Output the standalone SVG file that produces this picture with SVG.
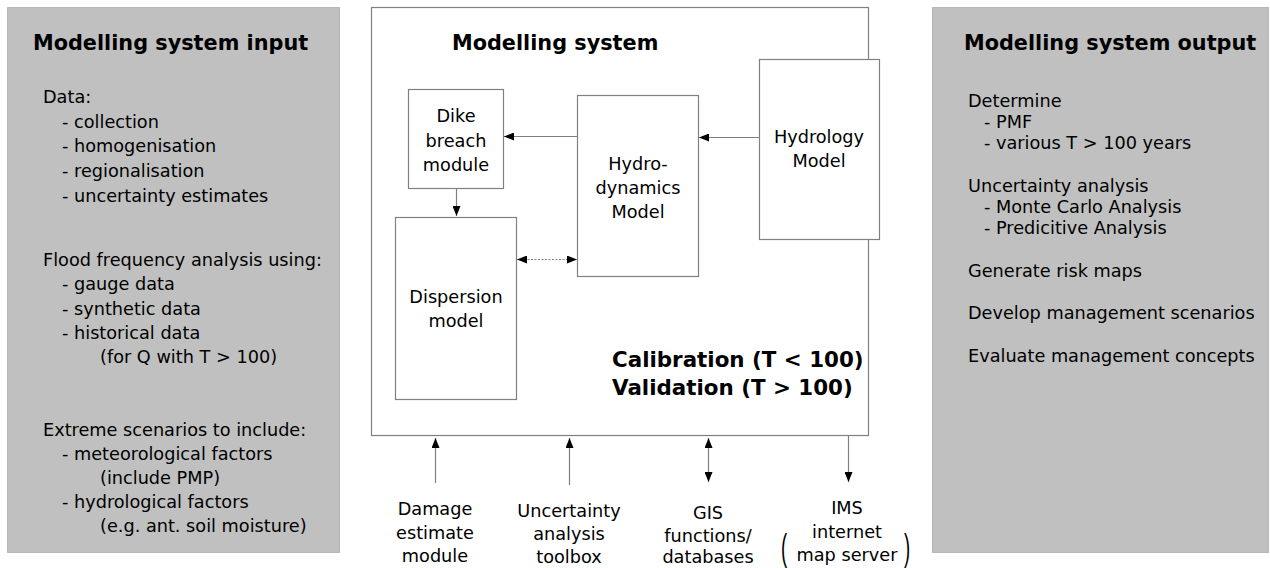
<svg xmlns="http://www.w3.org/2000/svg" width="1270" height="568" viewBox="0 0 1270 568">
<style>
  .panel { fill: #c0c0c0; stroke: #8c8c8c; stroke-width: 1; stroke-dasharray: 1 1; }
  .box { fill: #ffffff; stroke: #808080; stroke-width: 1.2; }
  .t { font-family: "DejaVu Sans", Verdana, sans-serif; font-size: 17.7px; fill: #000; }
  .c { text-anchor: middle; }
  .h { font-family: "DejaVu Sans", Verdana, sans-serif; font-weight: bold; font-size: 20.8px; fill: #000; }
  .cal { font-family: "DejaVu Sans", Verdana, sans-serif; font-weight: bold; font-size: 21.4px; fill: #000; }
  .ln { stroke: #808080; stroke-width: 1.2; fill: none; }
  .dot { stroke: #808080; stroke-width: 1; stroke-dasharray: 2 1.5; fill: none; }
  .par { font-family: "Liberation Sans", Arial, sans-serif; font-size: 37px; fill: #000; }
</style>
<defs>
  <marker id="ah" viewBox="0 0 10 8" refX="10" refY="4" markerWidth="10" markerHeight="8" markerUnits="userSpaceOnUse" orient="auto-start-reverse">
    <path d="M0,0 L10,4 L0,8 z" fill="#000"/>
  </marker>
</defs>

<g id="input-panel">
  <rect class="panel" x="7.5" y="7.5" width="332" height="545"/>
  <text class="h" x="33" y="50">Modelling system input</text>
  <text class="t" x="43" y="103">Data:</text>
  <text class="t" x="62" y="128">- collection</text>
  <text class="t" x="62" y="152">- homogenisation</text>
  <text class="t" x="62" y="177">- regionalisation</text>
  <text class="t" x="62" y="202">- uncertainty estimates</text>
  <text class="t" x="43" y="266">Flood frequency analysis using:</text>
  <text class="t" x="62" y="290">- gauge data</text>
  <text class="t" x="62" y="315">- synthetic data</text>
  <text class="t" x="62" y="339">- historical data</text>
  <text class="t" x="100" y="363">(for Q with T &gt; 100)</text>
  <text class="t" x="43" y="436">Extreme scenarios to include:</text>
  <text class="t" x="62" y="460">- meteorological factors</text>
  <text class="t" x="100" y="484">(include PMP)</text>
  <text class="t" x="62" y="508">- hydrological factors</text>
  <text class="t" x="100" y="532">(e.g. ant. soil moisture)</text>
</g>

<g id="output-panel">
  <rect class="panel" x="932.5" y="7.5" width="336" height="545"/>
  <text class="h" x="964" y="50">Modelling system output</text>
  <text class="t" x="968" y="107">Determine</text>
  <text class="t" x="984" y="128">- PMF</text>
  <text class="t" x="984" y="149">- various T &gt; 100 years</text>
  <text class="t" x="968" y="192">Uncertainty analysis</text>
  <text class="t" x="984" y="213">- Monte Carlo Analysis</text>
  <text class="t" x="984" y="234">- Predicitive Analysis</text>
  <text class="t" x="968" y="277">Generate risk maps</text>
  <text class="t" x="968" y="319">Develop management scenarios</text>
  <text class="t" x="968" y="362">Evaluate management concepts</text>
</g>

<g id="modelling-system">
  <rect class="box" x="371.5" y="7.5" width="497" height="428"/>
  <text class="h" x="452" y="50">Modelling system</text>
  <text class="cal" x="612" y="367">Calibration (T &lt; 100)</text>
  <text class="cal" x="612" y="395">Validation (T &gt; 100)</text>
</g>

<g id="dike-breach">
  <rect class="box" x="408.5" y="89.5" width="95" height="99"/>
  <text class="t c" x="456" y="122">Dike</text>
  <text class="t c" x="456" y="147">breach</text>
  <text class="t c" x="456" y="171">module</text>
</g>

<g id="hydrodynamics">
  <rect class="box" x="577.5" y="95.5" width="121" height="181"/>
  <text class="t c" x="638" y="170">Hydro-</text>
  <text class="t c" x="638" y="194">dynamics</text>
  <text class="t c" x="638" y="218">Model</text>
</g>

<g id="hydrology">
  <rect class="box" x="759.5" y="59.5" width="120" height="180"/>
  <text class="t c" x="819" y="143">Hydrology</text>
  <text class="t c" x="819" y="167">Model</text>
</g>

<g id="dispersion">
  <rect class="box" x="395.5" y="217.5" width="121" height="182"/>
  <text class="t c" x="456" y="303">Dispersion</text>
  <text class="t c" x="456" y="327">model</text>
</g>

<g id="damage">
  <text class="t c" x="435" y="515">Damage</text>
  <text class="t c" x="435" y="539">estimate</text>
  <text class="t c" x="435" y="562">module</text>
</g>

<g id="uncertainty">
  <text class="t c" x="569" y="517">Uncertainty</text>
  <text class="t c" x="569" y="540">analysis</text>
  <text class="t c" x="569" y="563">toolbox</text>
</g>

<g id="gis">
  <text class="t c" x="708" y="519">GIS</text>
  <text class="t c" x="708" y="542">functions/</text>
  <text class="t c" x="708" y="563">databases</text>
</g>

<g id="ims">
  <text class="t c" x="847" y="514">IMS</text>
  <text class="t c" x="847" y="538">internet</text>
  <text class="t c" x="847" y="561">map server</text>
  <text class="par" transform="translate(781,560) scale(0.5,1)">(</text>
  <text class="par" transform="translate(904,560) scale(0.5,1)">)</text>
</g>

<g id="connectors">
  <line class="ln" x1="577" y1="136.5" x2="504" y2="136.5" marker-end="url(#ah)"/>
  <line class="ln" x1="759" y1="137.5" x2="699" y2="137.5" marker-end="url(#ah)"/>
  <line class="ln" x1="456.5" y1="189" x2="456.5" y2="216" marker-end="url(#ah)"/>
  <line class="dot" x1="517" y1="259.5" x2="577" y2="259.5" marker-start="url(#ah)" marker-end="url(#ah)"/>
  <line class="ln" x1="435.5" y1="483" x2="435.5" y2="438" marker-end="url(#ah)"/>
  <line class="ln" x1="569.5" y1="485" x2="569.5" y2="438" marker-end="url(#ah)"/>
  <line class="ln" x1="708.5" y1="438" x2="708.5" y2="482" marker-start="url(#ah)" marker-end="url(#ah)"/>
  <line class="ln" x1="848.5" y1="436" x2="848.5" y2="482" marker-end="url(#ah)"/>
</g>
</svg>
